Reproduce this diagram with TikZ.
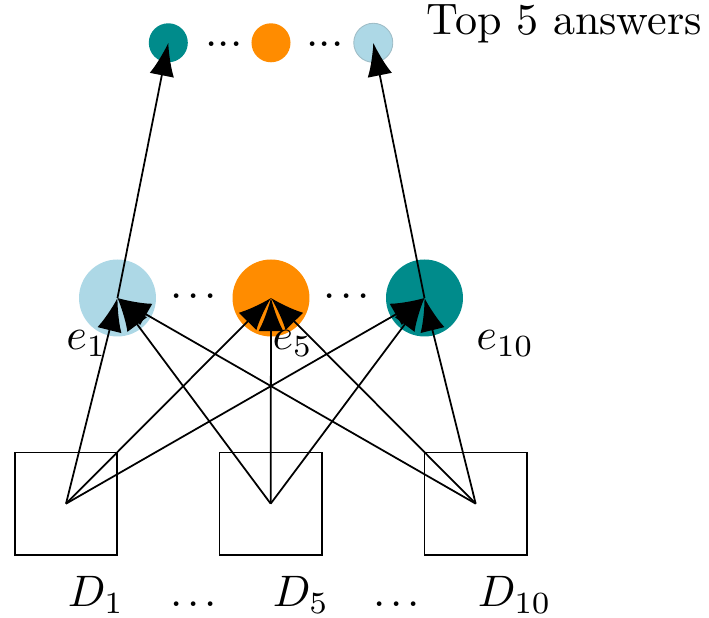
\documentclass[tikz,border=0pt]{standalone}
\usetikzlibrary{arrows.meta}
\definecolor{tealc}{RGB}{0,139,139}
\definecolor{orangec}{RGB}{255,140,0}
\definecolor{lbluec}{RGB}{173,216,230}
\newcommand{\mydots}{.\kern1.07pt.\kern1.07pt.}
\begin{document}
\begin{tikzpicture}[x=0.2268pt, y=-0.2268pt,
  bigc/.style={circle, inner sep=0pt, minimum size=17.46pt, draw=none},
  smallc/.style={circle, inner sep=0pt, minimum size=8.85pt, draw=none},
  doc/.style={draw, rectangle, inner sep=0pt, minimum size=23.25pt},
  lbl/.style={inner sep=0pt, anchor=base west},
  dotl/.style={inner sep=0pt, anchor=base},
  arr/.style={-{Latex[length=7.5pt,width=5.6pt]}}]
\useasboundingbox (0,0) rectangle (709,618);
% middle circles
\node[bigc, fill=lbluec] (e1) at (117.5,298) {};
\node[bigc, fill=orangec] (e5) at (271,298) {};
\node[bigc, fill=tealc] (e10) at (424.5,298) {};
% top circles
\node[smallc, fill=tealc] (t1) at (168.3,42.8) {};
\node[smallc, fill=orangec] (t5) at (271,42.8) {};
\node[smallc, fill=lbluec, draw=lbluec!70!gray, line width=0.2pt] (t10) at (373.3,42.8) {};
% documents
\node[doc] (b1) at (66,503.7) {};
\node[doc] (b5) at (270.7,503.7) {};
\node[doc] (b10) at (475.7,503.7) {};
% texts
\node[lbl] (top) at (426,34.3) {Top 5 answers};
\node[dotl] (td1) at (224,46.7) {...};
\node[dotl] (td2) at (325,46.7) {...};
\node[dotl] (md1) at (193.3,298.5) {\mydots};
\node[dotl] (md2) at (346.7,298.5) {\mydots};
\node[lbl] (le1) at (65.5,349.5) {$e_1$};
\node[lbl] (le5) at (271.7,349.5) {$e_5$};
\node[lbl] (le10) at (475.4,349.5) {$e_{10}$};
\node[lbl] (ld1) at (67,606.6) {$D_1$};
\node[lbl] (ld5) at (272,606.6) {$D_5$};
\node[lbl] (ld10) at (477,606.6) {$D_{10}$};
\node[dotl] (bd1) at (194,606.6) {\mydots};
\node[dotl] (bd2) at (396.5,606.6) {\mydots};
% connectors
\foreach \b in {b1,b5,b10}{
  \foreach \e in {e1,e5,e10}{
    \draw[arr] (\b.center) -- (\e.center);
  }
}
\draw[arr] (e1.center) -- (t1.center);
\draw[arr] (e10.center) -- (t10.center);
\end{tikzpicture}
\end{document}
